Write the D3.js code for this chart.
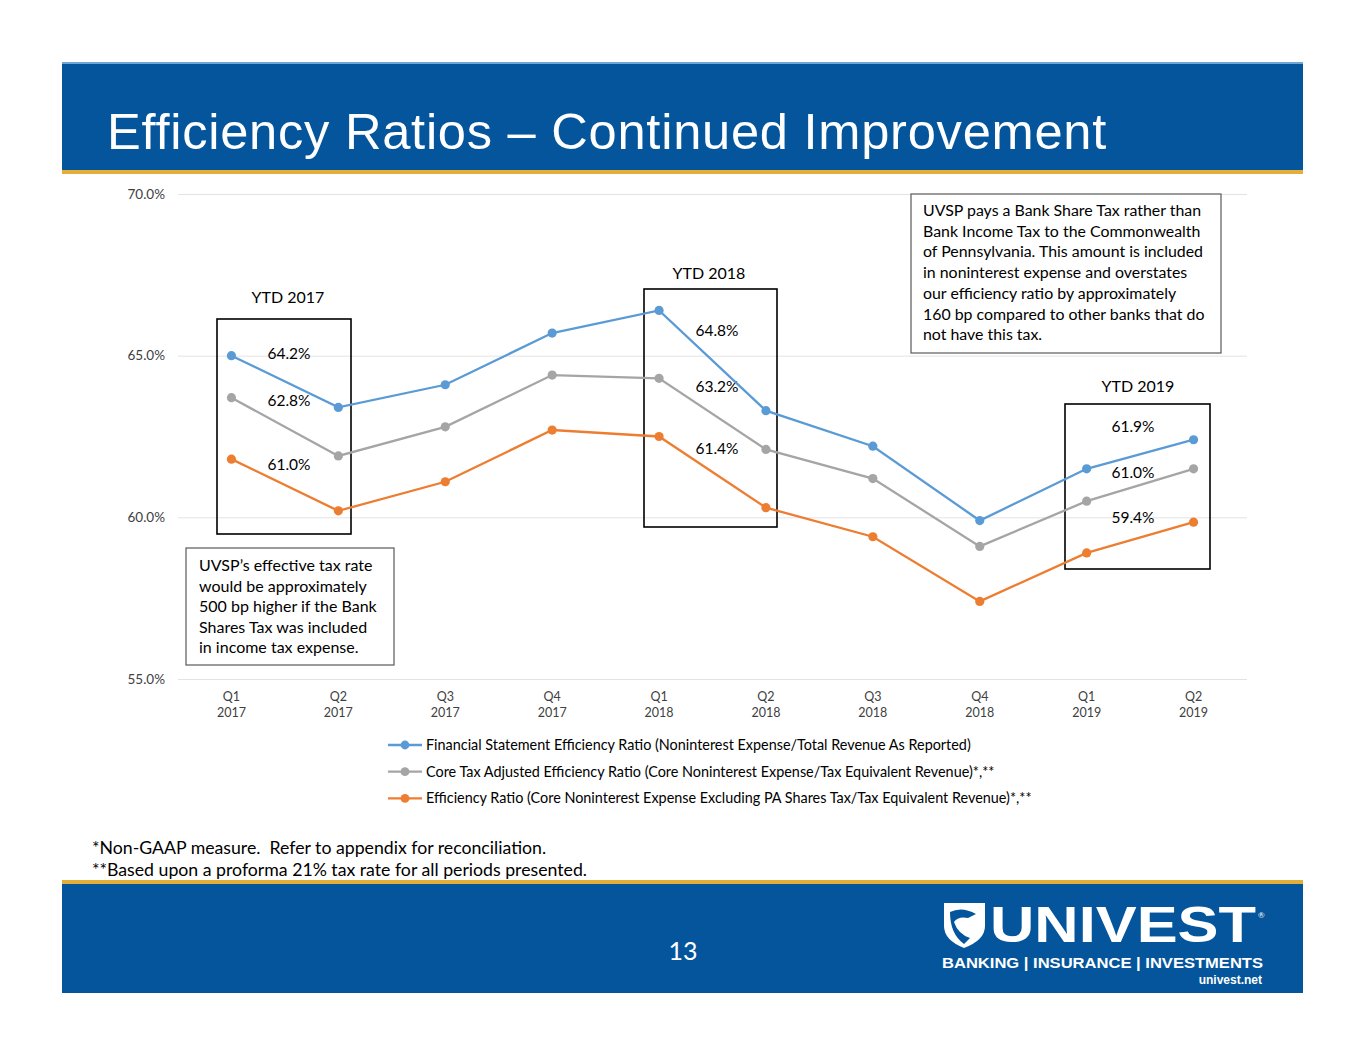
<!DOCTYPE html>
<html><head><meta charset="utf-8">
<script src="https://cdn.jsdelivr.net/npm/d3@7"></script>
<style>
html,body{margin:0;padding:0;background:#fff;}
svg{display:block;}
text{font-family:"Lato","Noto Sans",sans-serif;white-space:pre;}
</style></head>
<body>
<svg id="c" width="1365" height="1055"></svg>
<script>
const quarters = ["Q1","Q2","Q3","Q4","Q1","Q2","Q3","Q4","Q1","Q2"];
const years = ["2017","2017","2017","2017","2018","2018","2018","2018","2019","2019"];
const categories = quarters.map((q,i)=>q+" "+years[i]);
const financialStatement = [65.0,63.4,64.1,65.7,66.4,63.3,62.2,59.9,61.5,62.4];
const coreTaxAdjusted = [63.7,61.9,62.8,64.4,64.3,62.1,61.2,59.1,60.5,61.5];
const exclPAShares = [61.8,60.2,61.1,62.7,62.5,60.3,59.4,57.4,58.9,59.85];
const yTicks = [55,60,65,70];
const seriesNames = [
 "Financial Statement Efficiency Ratio (Noninterest Expense/Total Revenue As Reported)",
 "Core Tax Adjusted Efficiency Ratio (Core Noninterest Expense/Tax Equivalent Revenue)*,**",
 "Efficiency Ratio (Core Noninterest Expense Excluding PA Shares Tax/Tax Equivalent Revenue)*,**"
];
const seriesColors = ["#5B9BD5","#A5A5A5","#ED7D31"];
const ytdLabels = ["YTD 2017","YTD 2018","YTD 2019"];
const ytdValues = [["64.2%","62.8%","61.0%"],["64.8%","63.2%","61.4%"],["61.9%","61.0%","59.4%"]];
const noteRight = ["UVSP pays a Bank Share Tax rather than","Bank Income Tax to the Commonwealth","of Pennsylvania. This amount is included","in noninterest expense and overstates","our efficiency ratio by approximately","160 bp compared to other banks that do","not have this tax."];
const noteLeft = ["UVSP’s effective tax rate","would be approximately","500 bp higher if the Bank","Shares Tax was included","in income tax expense."];
const footnotes = ["*Non-GAAP measure.  Refer to appendix for reconciliation.","**Based upon a proforma 21% tax rate for all periods presented."];

const svg = d3.select("#c");
const blue = "#04559B", gold = "#E3AF3A";

// Header
svg.append("rect").attr("x",62).attr("y",62).attr("width",1241).attr("height",108).attr("fill",blue);
svg.append("rect").attr("x",62).attr("y",62).attr("width",1241).attr("height",2).attr("fill","#6fa6d6");
svg.append("rect").attr("x",62).attr("y",170).attr("width",1241).attr("height",4).attr("fill",gold);
svg.append("text").attr("x",107).attr("y",149).attr("fill","#fff")
  .style("font-family","'Liberation Sans',Arial,sans-serif").style("font-size","50.6px").style("letter-spacing","0.75px")
  .text("Efficiency Ratios – Continued Improvement");

// Footer
svg.append("rect").attr("x",62).attr("y",880).attr("width",1241).attr("height",4).attr("fill",gold);
svg.append("rect").attr("x",62).attr("y",884).attr("width",1241).attr("height",109).attr("fill",blue);
svg.append("text").attr("x",683).attr("y",960).attr("text-anchor","middle").attr("fill","#fff")
  .style("font-size","25px").text("13");

// Logo
const lg = svg.append("g");
lg.append("path").attr("d","M944,903 L985,903 L985,926 Q985,940 964,948 Q944,940 944,926 Z").attr("fill","#fff");
lg.append("path").attr("d","M950,912 Q962,906 976,914 L968,918 Q958,916 954,922 Q958,934 970,938 L964,944 Q950,934 950,912 Z").attr("fill",blue);
lg.append("text").attr("x",990).attr("y",942).attr("fill","#fff")
  .style("font-family","'Liberation Sans',Arial,sans-serif").style("font-weight","bold").style("font-size","50px")
  .attr("textLength",266).attr("lengthAdjust","spacingAndGlyphs").text("UNIVEST");
lg.append("text").attr("x",1258).attr("y",918).attr("fill","#fff").style("font-size","8px").text("®");
lg.append("text").attr("x",942).attr("y",968).attr("fill","#fff")
  .style("font-family","'Liberation Sans',Arial,sans-serif").style("font-weight","bold").style("font-size","14.5px")
  .attr("textLength",321).attr("lengthAdjust","spacingAndGlyphs").text("BANKING | INSURANCE | INVESTMENTS");
lg.append("text").attr("x",1262).attr("y",984).attr("text-anchor","end").attr("fill","#fff")
  .style("font-family","'Liberation Sans',Arial,sans-serif").style("font-weight","bold").style("font-size","12px").text("univest.net");

// Scales
const x = d3.scaleBand().domain(categories).range([178,1247]);
const cx = d => x(d) + x.bandwidth()/2;
const y = d3.scaleLinear().domain([55,70]).range([679,194]);

// Y axis + grid
const yAxis = d3.axisLeft(y).tickValues(yTicks).tickFormat(d=>d3.format(".1f")(d)+"%").tickSize(-1069).tickPadding(13);
const ya = svg.append("g").attr("transform","translate(178,0)").call(yAxis);
ya.select(".domain").remove();
ya.selectAll(".tick line").attr("stroke","#e3e3e3").attr("stroke-width",1);
ya.selectAll(".tick text").attr("fill","#404040").style("font-size","13.5px").style("font-family","'Lato',sans-serif");

// X axis
const xAxis = d3.axisBottom(x).tickSize(0).tickPadding(0);
const xa = svg.append("g").attr("transform","translate(0,679)").call(xAxis);
xa.select(".domain").remove();
xa.selectAll(".tick text").each(function(d,i){
  const t = d3.select(this); t.text(null).attr("y",0).attr("dy",null);
  t.append("tspan").attr("x",0).attr("y",22).text(quarters[i]);
  t.append("tspan").attr("x",0).attr("y",38).text(years[i]);
}).attr("fill","#404040").style("font-size","12.5px");

// YTD boxes
const boxes = [
  {x0:217,x1:351,y0:319,y1:534,lx:288,ly:303,vx:289,vy:[359,406,470]},
  {x0:644,x1:777,y0:289,y1:527,lx:709,ly:279,vx:717,vy:[336,392,454]},
  {x0:1065,x1:1210,y0:404,y1:569,lx:1138,ly:392,vx:1133,vy:[432,478,523]}
];
boxes.forEach((b,i)=>{
  svg.append("rect").attr("x",b.x0).attr("y",b.y0).attr("width",b.x1-b.x0).attr("height",b.y1-b.y0)
    .attr("fill","none").attr("stroke","#000").attr("stroke-width",1.6);
  svg.append("text").attr("x",b.lx).attr("y",b.ly).attr("text-anchor","middle").attr("fill","#000")
    .style("font-size","16px").text(ytdLabels[i]);
  ytdValues[i].forEach((v,j)=>{
    svg.append("text").attr("x",b.vx).attr("y",b.vy[j]).attr("text-anchor","middle").attr("fill","#000")
      .style("font-size","15.5px").text(v);
  });
});

// Lines
const allSeries = [financialStatement, coreTaxAdjusted, exclPAShares];
const line = d3.line().x((d,i)=>cx(categories[i])).y(d=>y(d));
allSeries.forEach((s,k)=>{
  svg.append("path").datum(s).attr("d",line).attr("fill","none").attr("stroke",seriesColors[k]).attr("stroke-width",2.3);
  svg.append("g").selectAll("circle").data(s).join("circle")
    .attr("cx",(d,i)=>cx(categories[i])).attr("cy",d=>y(d)).attr("r",4.6).attr("fill",seriesColors[k]);
});

// Notes
function note(x0,y0,w,h,lines,tx,ty,step,fs){
  svg.append("rect").attr("x",x0).attr("y",y0).attr("width",w).attr("height",h).attr("fill","#fff").attr("stroke","#595959").attr("stroke-width",1.2);
  lines.forEach((l,i)=>svg.append("text").attr("x",tx).attr("y",ty+i*step).attr("fill","#000").style("font-size",fs).text(l));
}
note(911,194,310,159,noteRight,923,216,20.7,"15.9px");
note(186,548,208,117,noteLeft,199,571,20.6,"16px");

// Legend
seriesNames.forEach((n,k)=>{
  const ly = 745 + k*26.7;
  svg.append("line").attr("x1",388).attr("x2",422).attr("y1",ly).attr("y2",ly).attr("stroke",seriesColors[k]).attr("stroke-width",2.3);
  svg.append("circle").attr("cx",405).attr("cy",ly).attr("r",4.4).attr("fill",seriesColors[k]);
  svg.append("text").attr("x",426).attr("y",ly+4.8).attr("fill","#000").style("font-size","14.4px").text(n);
});

// Footnotes
footnotes.forEach((f,i)=>svg.append("text").attr("x",92).attr("y",854+i*22).attr("fill","#000").style("font-size","17.7px").text(f));
</script>
</body></html>
